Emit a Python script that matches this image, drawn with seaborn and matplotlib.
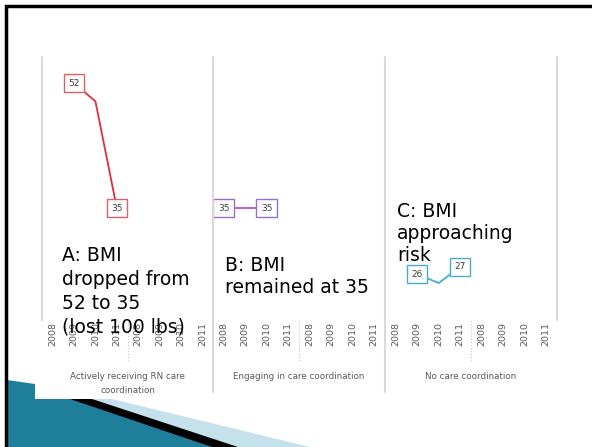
import numpy as np
import pandas as pd
import matplotlib
matplotlib.use('Agg')
import matplotlib.pyplot as plt
import matplotlib.transforms as mtransforms
from matplotlib.lines import Line2D
from matplotlib.patches import Polygon, Rectangle
import seaborn as sns

# tick labels: two runs of years under each group
years = ['2008', '2009', '2010', '2011']
periods = years + years

groups = ['Actively receiving RN care\ncoordination',
          'Engaging in care coordination',
          'No care coordination']

# BMI per slot (None = no reading)
bmi_a = [None, 52, 49.5, 35, None, None, None, None]
bmi_b = [35, None, 35, None, None, None, None, None]
bmi_c = [None, 26, 24.8, 27, None, None, None, None]

notes = ['A: BMI\ndropped from\n52 to 35\n(lost 100 lbs)',
         'B: BMI\nremained at 35',
         'C: BMI\napproaching\nrisk']

line_colors = ['#e0303a', '#c04fd8', '#4aaccc']
box_colors = ['#e06068', '#9a6fc8', '#4aaccc']

W, H = 592, 447


def fx(px):
    return px / W


def fy(py):
    return 1 - py / H


sns.set_theme(style='white')
plt.rcParams['font.family'] = ['DejaVu Sans']

fig = plt.figure(figsize=(W / 100, H / 100), dpi=100)
fig.patch.set_facecolor('white')

# panel edges in pixels
edges = [42, 213, 385, 557]
top_px, bottom_px = 57, 300

for i, (series, group) in enumerate(zip([bmi_a, bmi_b, bmi_c], groups)):
    left, right = edges[i], edges[i + 1]
    ax = fig.add_axes([fx(left), fy(bottom_px), fx(right - left), (bottom_px - top_px) / H])
    df = pd.DataFrame({'slot': np.arange(len(periods)), 'bmi': series}).dropna()
    sns.lineplot(data=df, x='slot', y='bmi', ax=ax, color=line_colors[i],
                 lw=1.3, legend=False)
    # data labels on first and last reading
    for j in [0, len(df) - 1]:
        x, v = df['slot'].iloc[j], df['bmi'].iloc[j]
        ax.text(x, v, f'{v:g}', ha='center', va='center', fontsize=6.5,
                color='#404040', zorder=5,
                bbox=dict(boxstyle='square,pad=0.5', fc='white',
                          ec=box_colors[i], lw=1))
    ax.set_xlim(-0.5, 7.5)
    ax.set_ylim(22.49, 55.54)
    ax.set_xticks(range(len(periods)))
    ax.set_xticklabels(periods, rotation=90, fontsize=6.8, color='#595959')
    ax.tick_params(axis='x', length=0, pad=15.5)
    ax.set_yticks([])
    ax.set_xlabel('')
    ax.set_ylabel('')
    for s in ax.spines.values():
        s.set_visible(False)
    ax.patch.set_alpha(0)
    # dotted divider between the two year runs
    trans = mtransforms.blended_transform_factory(ax.transData, ax.transAxes)
    ax.plot([3.5, 3.5], [-0.085, -0.255], transform=trans, clip_on=False,
            color='#c8c8c8', lw=0.8, ls=':')
    ax.text(3.5, -0.295, group, transform=trans, ha='center', va='top',
            fontsize=6.3, color='#595959', linespacing=1.7)

# panel separators
for k, x in enumerate(edges):
    y_end = 392 if k in (1, 2) else 320
    fig.add_artist(Line2D([fx(x), fx(x)], [fy(top_px), fy(y_end)],
                          color='#d9d9d9', lw=1.5))

# slide decoration bottom-left
fig.add_artist(Polygon([(fx(7), fy(380)), (fx(35), fy(384)), (fx(35), fy(399)),
                        (fx(73), fy(399)), (fx(215), fy(447)), (fx(7), fy(447))],
                       closed=True, fc='#1f7e9a', ec='none'))
fig.add_artist(Polygon([(fx(90), fy(399)), (fx(112), fy(399)), (fx(310), fy(447)),
                        (fx(236), fy(447))],
                       closed=True, fc='#c4e1ec', ec='none'))
fig.add_artist(Polygon([(fx(70), fy(399)), (fx(92), fy(399)), (fx(238), fy(447)),
                        (fx(212), fy(447))],
                       closed=True, fc='black', ec='none'))

# annotation texts
fig.text(fx(62), fy(246), notes[0], ha='left', va='top', fontsize=13.5,
         color='black', linespacing=1.33)
fig.text(fx(225), fy(256), notes[1], ha='left', va='top', fontsize=13.5,
         color='black', linespacing=1.2)
fig.text(fx(397), fy(202), notes[2], ha='left', va='top', fontsize=13.5,
         color='black', linespacing=1.2)

# slide frame
fig.add_artist(Rectangle((fx(6), fy(452)), fx(600), (452 - 6) / H,
                         transform=fig.transFigure,
                         fill=False, ec='black', lw=2.5, clip_on=False))

fig.savefig('out.png', dpi=100)
